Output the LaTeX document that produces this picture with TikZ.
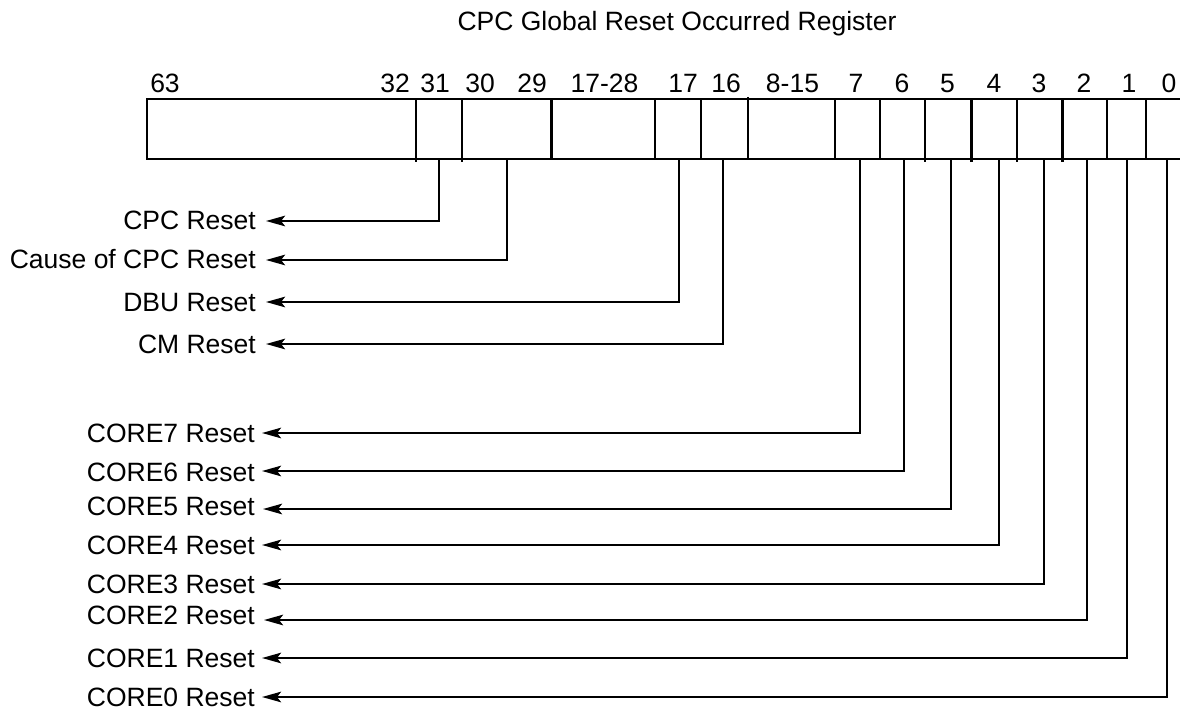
\documentclass[tikz,border=0pt]{standalone}
\usepackage{fontspec}
\setmainfont{Liberation Sans}
\usetikzlibrary{arrows.meta}
\begin{document}
\begin{tikzpicture}[x=1pt,y=-1pt,
  every node/.style={inner sep=0pt,font=\fontsize{26.5}{30}\selectfont},
  reg/.style={line width=2.4pt,line cap=butt},
  conn/.style={line width=2.4pt,-{Stealth[length=19pt,width=10.5pt,inset=4pt]}},
  lbl/.style={anchor=base east},
  bitnum/.style={anchor=base}]
\useasboundingbox (0,0) rectangle (1180,711);
% title
\node[anchor=base] (title) at (677,31) {CPC Global Reset Occurred Register};
% register outline
\draw[reg] (1180,99) -- (147,99) -- (147,159) -- (1180,159);
% dividers
\foreach \x/\b in {416/162,462/162,551.5/159,655/159,701/159,835/159,880/159,925/162,971.5/162,1017/162,1062.5/162,1107/159,1146/159}
  \draw[reg] (\x,99) -- (\x,\b);
\draw[reg] (748,97) -- (748,159);
% bit numbers
\foreach \x/\t [count=\i] in {165/63,395/32,435/31,480/30,532/29,604.5/17-28,683/17,726/16,792.5/8-15,856/7,902/6,947.5/5,994/4,1039/3,1084/2,1129/1,1169/0}
  \node[bitnum] (n\i) at (\x,93) {\t};
% connector start points
\coordinate (b31) at (439,159);
\coordinate (b30) at (507,159);
\coordinate (b17) at (679,159);
\coordinate (b16) at (723,159);
\coordinate (b7) at (860,159);
\coordinate (b6) at (904,159);
\coordinate (b5) at (951,159);
\coordinate (b4) at (999,159);
\coordinate (b3) at (1044,159);
\coordinate (b2) at (1087,159);
\coordinate (b1) at (1127,159);
\coordinate (b0) at (1167,159);
% tips
\coordinate (t31) at (266,221);
\coordinate (t30) at (266,260);
\coordinate (t17) at (266,302);
\coordinate (t16) at (266,344);
\coordinate (t7) at (262,433);
\coordinate (t6) at (262,471);
\coordinate (t5) at (263,509);
\coordinate (t4) at (262,545);
\coordinate (t3) at (262,584);
\coordinate (t2) at (264,620);
\coordinate (t1) at (262,658);
\coordinate (t0) at (262,697);
% labels
\node[lbl] (l31) at (256,230) {CPC Reset};
\node[lbl] (l30) at (256,269) {Cause of CPC Reset};
\node[lbl] (l17) at (256,311) {DBU Reset};
\node[lbl] (l16) at (256,353) {CM Reset};
\node[lbl] (l7) at (255,442) {CORE7 Reset};
\node[lbl] (l6) at (255,481) {CORE6 Reset};
\node[lbl] (l5) at (255,515) {CORE5 Reset};
\node[lbl] (l4) at (255,554) {CORE4 Reset};
\node[lbl] (l3) at (255,593) {CORE3 Reset};
\node[lbl] (l2) at (255,624) {CORE2 Reset};
\node[lbl] (l1) at (255,667) {CORE1 Reset};
\node[lbl] (l0) at (255,706) {CORE0 Reset};
% connectors
\foreach \b in {31,30,17,16,7,6,5,4,3,2,1,0}
  \draw[conn] (b\b) |- (t\b);
\end{tikzpicture}
\end{document}
